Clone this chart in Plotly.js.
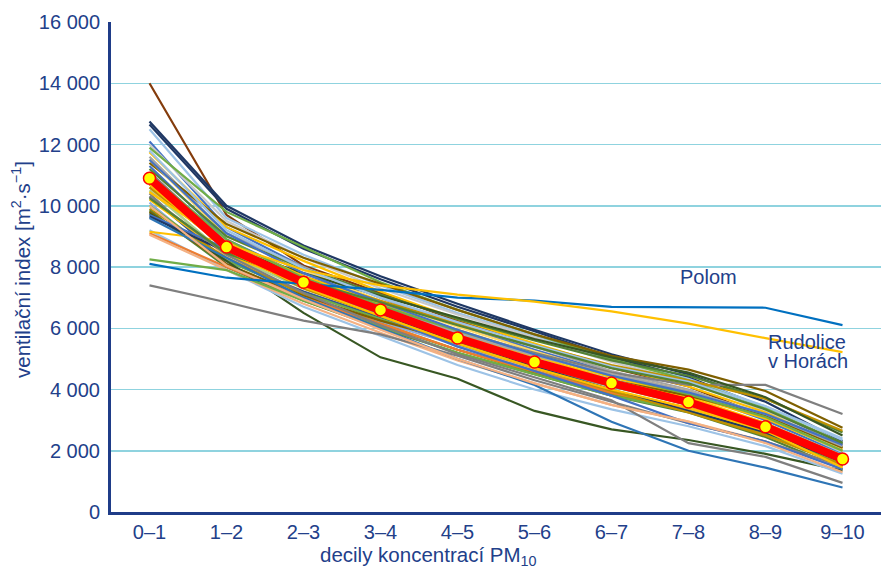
<!DOCTYPE html>
<html><head><meta charset="utf-8">
<script src="https://cdn.plot.ly/plotly-3.0.1.min.js"></script>
<style>html,body{margin:0;padding:0;background:#fff}#chart{width:882px;height:568px}</style>
</head><body><div id="chart"></div>
<script>
const deciles = ["0–1","1–2","2–3","3–4","4–5","5–6","6–7","7–8","8–9","9–10"];

const meanIndex = [10900, 8650, 7500, 6600, 5680, 4900, 4210, 3590, 2780, 1730];
const polom = [8100, 7650, 7450, 7250, 7000, 6900, 6700, 6680, 6670, 6100];
const rudolice = [10450, 8750, 7900, 7400, 7100, 6870, 6550, 6150, 5680, 5220];

const stations = [
  [14000, 9700, 8050, 7150, 6250, 5450, 4700, 4100, 3100, 2200],
  [12750, 10000, 8700, 7700, 6800, 5950, 5150, 4500, 3600, 2300],
  [12650, 9900, 8600, 7600, 6700, 5900, 5050, 4400, 3400, 2100],
  [12500, 9600, 8400, 7400, 6500, 5750, 4950, 4350, 3450, 2400],
  [12100, 9300, 8000, 7000, 6100, 5300, 4550, 3900, 3000, 1900],
  [12000, 9500, 8300, 7300, 6450, 5700, 4900, 4250, 3300, 2150],
  [11900, 9800, 8650, 7500, 6600, 5800, 5000, 4300, 3400, 2250],
  [11750, 9300, 8200, 7200, 6300, 5500, 4750, 4100, 3250, 2100],
  [11600, 9100, 8000, 7000, 6100, 5400, 4600, 4000, 3100, 2000],
  [11400, 9400, 8300, 7450, 6600, 5800, 5100, 4650, 3950, 2750],
  [11500, 9000, 7900, 6900, 6050, 5250, 4500, 3950, 3150, 2050],
  [11300, 8900, 7700, 6700, 5800, 5000, 4300, 3700, 2850, 1700],
  [11200, 9000, 7950, 7100, 6300, 5600, 4950, 4450, 3700, 2600],
  [11100, 8800, 7600, 6700, 5900, 5200, 4550, 4150, 4150, 3200],
  [11000, 8700, 7550, 6650, 5800, 5050, 4350, 3750, 2900, 1800],
  [10900, 8700, 7700, 6900, 6150, 5450, 4800, 4300, 3700, 2650],
  [10800, 8500, 7400, 6550, 5750, 5000, 4350, 3850, 3100, 1950],
  [10700, 8600, 7800, 7050, 6350, 5650, 5050, 4550, 3750, 2500],
  [10600, 8300, 7200, 6300, 5450, 4650, 3950, 3350, 2600, 1600],
  [10500, 8400, 7300, 6450, 5600, 4900, 4200, 3650, 2900, 1850],
  [10400, 8100, 7000, 6100, 5300, 4600, 3900, 3400, 2700, 1700],
  [10300, 8200, 7200, 6350, 5600, 4850, 4150, 3500, 2700, 1600],
  [10200, 8400, 7450, 6750, 5950, 5150, 4400, 3800, 3050, 2000],
  [10100, 8000, 7000, 6200, 5450, 4750, 4100, 3550, 2850, 1800],
  [10000, 8200, 7150, 6300, 5500, 4800, 4100, 3500, 2700, 1650],
  [9900, 8300, 7100, 6150, 5300, 4550, 3850, 3300, 2550, 1500],
  [9850, 8000, 6900, 6000, 5200, 4500, 3800, 3250, 2450, 1400],
  [9800, 8100, 7050, 6250, 5550, 4950, 4300, 3800, 3150, 2100],
  [9750, 8200, 6500, 5050, 4350, 3300, 2700, 2350, 1900, 1350],
  [9200, 7900, 6700, 5750, 4800, 4000, 3350, 2800, 2150, 1250],
  [9100, 8000, 7000, 6150, 5300, 4600, 3900, 3400, 2700, 1700],
  [9050, 7900, 6800, 5850, 4950, 4200, 3500, 2950, 2300, 1450],
  [9150, 8850, 7700, 6800, 5900, 5100, 4300, 3700, 2900, 1800],
  [8250, 7900, 6900, 6050, 5200, 4500, 3800, 3300, 2600, 1550],
  [7400, 6850, 6250, 5800, 5100, 4300, 3600, 2900, 2300, 1500],
  [9700, 8600, 7500, 6400, 5400, 4600, 3800, 2900, 2300, 1400],
  [9650, 8500, 7450, 6500, 5500, 4750, 4000, 3300, 2600, 1650],
  [9600, 8300, 7000, 6000, 5000, 4150, 2950, 2000, 1450, 800],
  [10300, 8400, 7150, 6100, 5150, 4400, 3650, 2250, 1800, 950],
  [10000, 8050, 6950, 5950, 5000, 4200, 3500, 2950, 2250, 1300],
  [10600, 8600, 7300, 6400, 5500, 4700, 3950, 3250, 2500, 1550],
  [11000, 8900, 7650, 6750, 5900, 5150, 4450, 3850, 3100, 2000],
  [11800, 9200, 7950, 7000, 6200, 5450, 4750, 4250, 3450, 2350],
  [10900, 8600, 7550, 6650, 5850, 5100, 4500, 3950, 3200, 2150],
  [11500, 9100, 7800, 6850, 5950, 5150, 4450, 3900, 3200, 2200],
  [10250, 8450, 7550, 6850, 6100, 5400, 4700, 4200, 3350, 2250],
  [10700, 8550, 7350, 6400, 5500, 4700, 4000, 3400, 2650, 1450]
];

const stationColors = [
  "#843c0c","#1f3864","#203864","#9dc3e6","#4472c4","#c9c9c9","#70ad47","#ffc000",
  "#a5a5a5","#7f6000","#ffd966","#4472c4","#548235","#7f7f7f","#ffc000","#bf9000",
  "#9dc3e6","#385723","#f4b183","#a9d18e","#7f7f7f","#2f5597","#ffc000","#8faadc",
  "#70ad47","#bf9000","#548235","#7f6000","#385723","#9dc3e6","#ed7d31","#f4b183",
  "#ffc000","#70ad47","#7f7f7f","#4472c4","#1f3864","#2e75b6","#7f7f7f","#f4b183",
  "#bf9000","#70ad47","#9dc3e6","#a5a5a5","#4472c4","#548235","#ffc000"
];

const labels = { polom: "Polom", rudolice1: "Rudolice", rudolice2: "v Horách" };
const textColor = "#22408a";
const font = "Liberation Sans, Arial, sans-serif";

const traces = stations.map((v, i) => ({
  x: deciles, y: v, type: "scatter", mode: "lines",
  line: { color: stationColors[i % stationColors.length], width: 2.2 },
  hoverinfo: "skip", showlegend: false
}));
traces.push({ x: deciles, y: polom, type: "scatter", mode: "lines",
  line: { color: "#0070c0", width: 2.2 }, hoverinfo: "skip", showlegend: false });
traces.push({ x: deciles, y: rudolice, type: "scatter", mode: "lines",
  line: { color: "#ffc000", width: 2.2 }, hoverinfo: "skip", showlegend: false });
traces.push({ x: deciles, y: meanIndex, type: "scatter", mode: "lines+markers",
  line: { color: "#ff0000", width: 8 },
  marker: { color: "#ffff00", size: 12, line: { color: "#ff0000", width: 1.5 } },
  hoverinfo: "skip", showlegend: false });

const py = v => (512 - v) / 490;
const layout = {
  width: 882, height: 568,
  margin: { l: 111, r: 1, t: 22, b: 56 },
  paper_bgcolor: "#ffffff", plot_bgcolor: "#ffffff",
  separators: ", ",
  font: { family: font, color: textColor, size: 20 },
  xaxis: {
    type: "category", range: [-0.5, 9.5],
    showgrid: false, zeroline: false,
    showline: true, linecolor: "#1f3c88", linewidth: 3,
    ticks: "", tickfont: { size: 20, color: textColor, family: font },
    fixedrange: true
  },
  yaxis: {
    range: [0, 16000], dtick: 2000, tickformat: ",d",
    showgrid: true, gridcolor: "#8fd3df", gridwidth: 1.5,
    zeroline: false,
    showline: true, linecolor: "#1f3c88", linewidth: 3,
    ticks: "", ticklabelstandoff: 4,
    tickfont: { size: 20, color: textColor, family: font },
    fixedrange: true
  },
  annotations: [
    { xref: "paper", yref: "paper", x: (21 - 111) / 770, y: py(270),
      text: "ventilační index [m<sup>2</sup>·s<sup>−1</sup>]", textangle: -90,
      showarrow: false, xanchor: "center", yanchor: "middle",
      font: { size: 20.5, color: textColor, family: font } },
    { xref: "paper", yref: "paper", x: (428 - 111) / 770, y: py(556),
      text: "decily koncentrací PM<sub>10</sub>",
      showarrow: false, xanchor: "center", yanchor: "middle",
      font: { size: 20.5, color: textColor, family: font } },
    { xref: "x", yref: "paper", x: 7.26, y: py(277), text: labels.polom,
      showarrow: false, xanchor: "center", yanchor: "middle",
      font: { size: 20, color: textColor, family: font } },
    { xref: "x", yref: "paper", x: 8, y: py(342), text: labels.rudolice1, align: "left",
      showarrow: false, xanchor: "left", yanchor: "middle",
      font: { size: 20, color: textColor, family: font } },
    { xref: "x", yref: "paper", x: 8, y: py(361), text: labels.rudolice2, align: "left",
      showarrow: false, xanchor: "left", yanchor: "middle",
      font: { size: 20, color: textColor, family: font } }
  ]
};

Plotly.newPlot("chart", traces, layout, { staticPlot: true, displayModeBar: false });
</script>
</body></html>
